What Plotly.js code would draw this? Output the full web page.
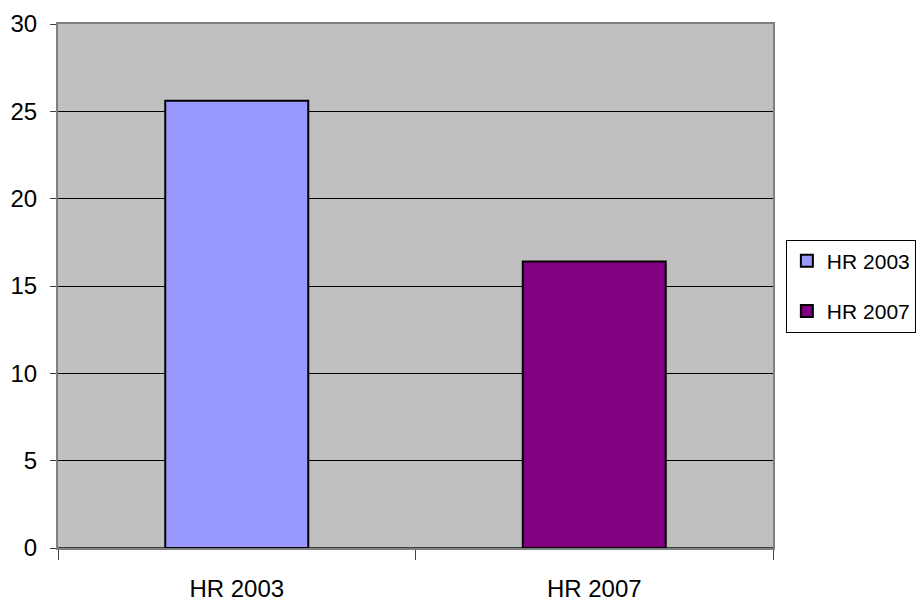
<!DOCTYPE html>
<html>
<head>
<meta charset="utf-8">
<script src="https://cdn.plot.ly/plotly-3.0.1.min.js"></script>
<style>
html,body{margin:0;padding:0;background:#fff;}
#chart{width:917px;height:616px;}
</style>
</head>
<body>
<div id="chart"></div>
<script>
var categories = ['HR 2003', 'HR 2007'];
var values = [25.6, 16.4];
var seriesNames = ['HR 2003', 'HR 2007'];
var colors = ['#9999FF', '#800080'];
var yTicks = [0, 5, 10, 15, 20, 25, 30];

var FONT = '"Liberation Sans", Arial, sans-serif';

var traces = categories.map(function (c, i) {
  return {
    type: 'bar',
    x: [c],
    y: [values[i]],
    name: seriesNames[i],
    legendgroup: 'g' + i,
    width: 0.4,
    marker: {color: colors[i], line: {color: '#000000', width: 2}},
    hoverinfo: 'x+y'
  };
});

var layout = {
  width: 917,
  height: 616,
  margin: {l: 58, r: 144, t: 24, b: 68, autoexpand: false},
  paper_bgcolor: '#ffffff',
  plot_bgcolor: '#C0C0C0',
  barmode: 'overlay',
  font: {family: FONT, size: 21, color: '#000000'},
  showlegend: true,
  legend: {
    x: 1.018, xanchor: 'left',
    y: 0.5, yanchor: 'middle',
    bgcolor: '#ffffff',
    bordercolor: '#000000',
    borderwidth: 1,
    font: {family: FONT, size: 21, color: '#000000'},
    tracegroupgap: 20,
    itemwidth: 30
  },
  xaxis: {
    type: 'category',
    categoryarray: categories,
    tickson: 'boundaries',
    ticks: 'outside',
    ticklen: 10,
    tickcolor: '#404040',
    showline: true,
    linecolor: '#808080',
    linewidth: 2,
    mirror: true,
    showgrid: false,
    tickfont: {family: FONT, size: 24},
    ticklabelstandoff: 18
  },
  yaxis: {
    range: [0, 30],
    tickvals: yTicks,
    ticktext: yTicks.map(String),
    ticks: 'outside',
    ticklen: 6,
    tickcolor: '#404040',
    showline: true,
    linecolor: '#808080',
    linewidth: 2,
    mirror: true,
    showgrid: true,
    gridcolor: '#000000',
    gridwidth: 1,
    zeroline: true,
    zerolinecolor: '#404040',
    zerolinewidth: 2,
    tickfont: {family: FONT, size: 24},
    ticklabelstandoff: 8
  }
};

Plotly.newPlot('chart', traces, layout, {displayModeBar: false, staticPlot: true});
</script>
</body>
</html>
